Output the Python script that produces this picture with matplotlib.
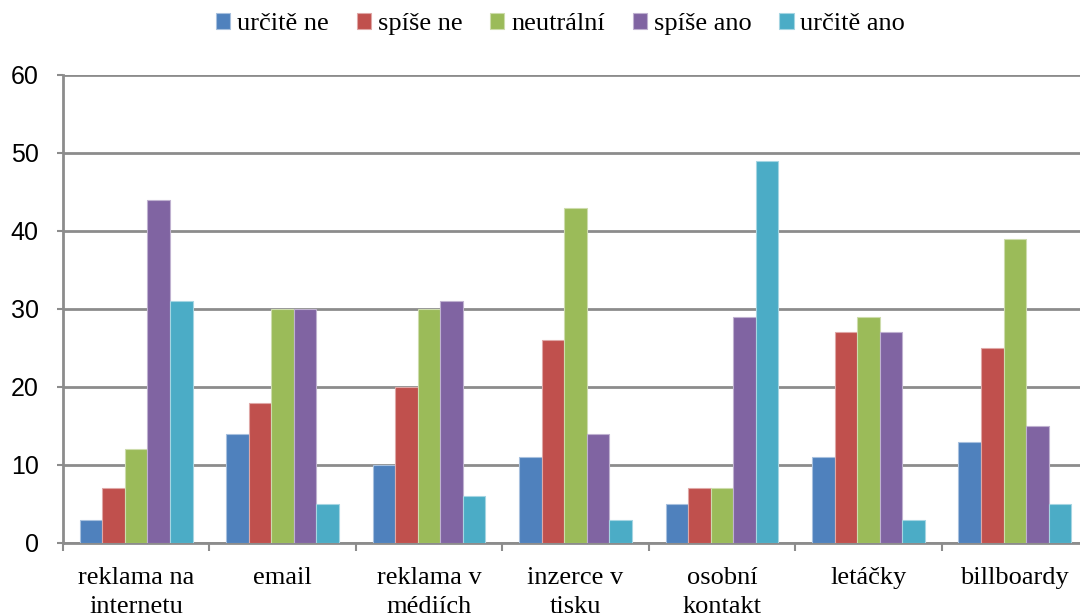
import numpy as np
import matplotlib.pyplot as plt

categories = ["reklama na\ninternetu", "email", "reklama v\nmédiích", "inzerce v\ntisku",
              "osobní\nkontakt", "letáčky", "billboardy"]
series = ["určitě ne", "spíše ne", "neutrální", "spíše ano", "určitě ano"]
urcite_ne = [3, 14, 10, 11, 5, 11, 13]
spise_ne = [7, 18, 20, 26, 7, 27, 25]
neutralni = [12, 30, 30, 43, 7, 29, 39]
spise_ano = [44, 30, 31, 14, 29, 27, 15]
urcite_ano = [31, 5, 6, 3, 49, 3, 5]
values = [urcite_ne, spise_ne, neutralni, spise_ano, urcite_ano]
colors = ["#4f81bd", "#c0504d", "#9bbb59", "#8064a2", "#4bacc6"]
edges = ["#a7c0de", "#dfa7a6", "#cddcac", "#bfb1d0", "#a5d5e2"]

fig = plt.figure(figsize=(10.8, 6.16), dpi=100)
ax = fig.add_axes([63 / 1080, 1 - 543 / 616, 1025 / 1080, 468 / 616])

n = len(categories)
x = np.arange(n)
w = 1 / 6.5
for i, (vals, c, ec, name) in enumerate(zip(values, colors, edges, series)):
    ax.bar(x - 2 * w + i * w, vals, width=w, color=c, edgecolor=ec, linewidth=0.8,
           label=name, zorder=3)

ax.set_xlim(-0.5, n - 0.5)
ax.set_ylim(0, 60)
ax.set_yticks(range(0, 61, 10))
ax.yaxis.grid(True, color="#8c8c8c", linewidth=2, zorder=0)
ax.set_axisbelow(True)

for s in ["top", "right"]:
    ax.spines[s].set_visible(False)
for s in ["left", "bottom"]:
    ax.spines[s].set_color("#8c8c8c")
    ax.spines[s].set_linewidth(2)

# category labels between boundary ticks
ax.set_xticks(np.arange(n + 1) - 0.5)
ax.set_xticklabels([])
ax.set_xticks(x, minor=True)
ax.set_xticklabels(categories, minor=True, fontfamily="Liberation Serif", fontsize=19,
                   linespacing=1.45)
ax.tick_params(axis="x", which="major", length=6, width=1.5, color="#8c8c8c")
ax.tick_params(axis="x", which="minor", length=0, pad=17)
ax.tick_params(axis="y", length=4.5, width=1.5, color="#8c8c8c", pad=13)
for lbl in ax.get_yticklabels():
    lbl.set_fontfamily("Liberation Sans")
    lbl.set_fontsize(18)

leg = fig.legend(loc="upper center", bbox_to_anchor=(0.519, 1.018), ncol=5, frameon=False,
                 prop={"family": "Liberation Serif", "size": 19},
                 handlelength=0.55, handleheight=0.6, handletextpad=0.25, columnspacing=1.05)

fig.savefig("out.png", dpi=100)
